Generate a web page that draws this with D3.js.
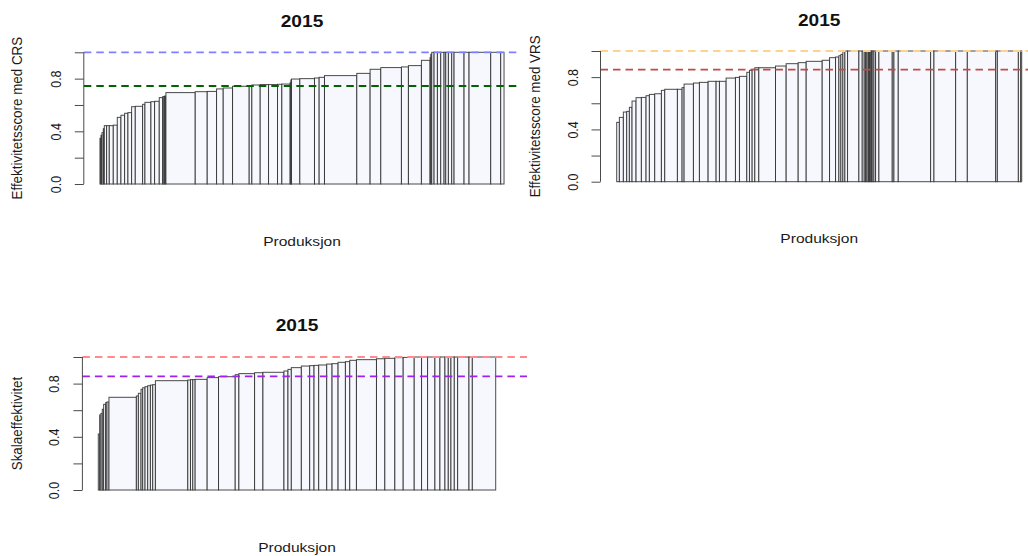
<!DOCTYPE html>
<html>
<head>
<meta charset="utf-8">
<script src="https://cdn.jsdelivr.net/npm/d3@7/dist/d3.min.js"></script>
<style>
  html, body { margin: 0; padding: 0; background: #ffffff; }
  svg { display: block; font-family: "Liberation Sans", Arial, Helvetica, sans-serif; }
</style>
</head>
<body>
<svg id="chart" width="1028" height="556"></svg>
<script>
// Salter diagrams for 2015: each bar is one unit, width = production, height = efficiency score.

// CRS efficiency, sorted ascending
const crsProduksjon = [3,3,4,3,7,8,12,12,11,11,10,11,11,22,7,18,11,14,10,4,3,3,88,36,28,20,28,50,8,25,25,27,13,25,2,2,25,44,14,16,97,40,32,62,21,39,26,2,3,7,10,10,10,5,8,10,7,30,15,65,30,10];
const crsScore = [0.347,0.37,0.39,0.42,0.443,0.443,0.443,0.447,0.506,0.522,0.537,0.542,0.587,0.590,0.605,0.620,0.625,0.628,0.656,0.663,0.665,0.668,0.694,0.701,0.703,0.722,0.729,0.742,0.743,0.752,0.755,0.755,0.757,0.759,0.77,0.79,0.797,0.800,0.805,0.81,0.823,0.84,0.871,0.884,0.889,0.899,0.939,0.96,0.985,1,1,1,1,1,1,1,1,1,1,1,1,1];
const crsMean = 0.744;

// VRS efficiency, sorted ascending
const vrsProduksjon = [8,12,10,8,8,12,16,14,10,16,20,10,38,14,6,28,18,26,24,10,20,28,12,22,8,8,8,12,50,32,36,24,48,22,18,10,6,6,6,8,34,10,6,4,4,4,3,3,3,3,5,5,10,40,5,13,97,10,65,35,85,5,63,7,3];
const vrsScore = [0.454,0.492,0.533,0.538,0.569,0.617,0.643,0.645,0.658,0.668,0.673,0.699,0.707,0.707,0.72,0.747,0.755,0.76,0.768,0.768,0.768,0.793,0.798,0.806,0.837,0.852,0.86,0.872,0.872,0.885,0.903,0.911,0.921,0.929,0.949,0.954,0.964,0.974,0.995,1,1,1,1,1,1,1,1,1,1,1,1,1,1,1,1,1,1,1,1,1,1,1,1,1,1];
const vrsMean = 0.857;

// Scale efficiency, sorted ascending
const skalaProduksjon = [4,4,4,4,6,4,6,82,6,8,5,7,8,8,7,8,97,8,7,7,36,34,50,11,47,25,63,12,10,30,25,13,14,24,16,18,22,13,20,60,25,30,25,33,22,18,22,15,15,10,8,10,10,34,10,70];
const skalaScore = [0.421,0.564,0.576,0.607,0.644,0.657,0.662,0.697,0.707,0.727,0.757,0.769,0.777,0.784,0.789,0.792,0.822,0.827,0.83,0.83,0.832,0.845,0.852,0.867,0.875,0.882,0.885,0.895,0.907,0.92,0.932,0.935,0.937,0.94,0.947,0.95,0.96,0.965,0.975,0.98,0.987,0.99,0.995,0.997,1,1,1,1,1,1,1,1,1,1,1,1];
const skalaMean = 0.855;

const yTicks = [0, 0.2, 0.4, 0.6, 0.8, 1.0];
const yLabelled = [0, 0.4, 0.8];
const titleText = "2015";
const xTitle = "Produksjon";

// Horizontal stretch applied to text glyphs
const sx = 1.16;

const panels = [
  { prod: crsProduksjon, score: crsScore, title: titleText, yTitle: "Effektivitetsscore med CRS",
    lines: [{ v: 1, color: "#8080ff" }, { v: crsMean, color: "#006400" }],
    left: 83.8, right: 520.2, y0: 184, y1: 52.3, titleY: 26.5, yTitleX: 21.5 },
  { prod: vrsProduksjon, score: vrsScore, title: titleText, yTitle: "Effektivitetsscore med VRS",
    lines: [{ v: 1, color: "#fdd38f" }, { v: vrsMean, color: "#c44a4a" }],
    left: 600.5, right: 1037.9, y0: 181.7, y1: 51, titleY: 26, yTitleX: 539.5 },
  { prod: skalaProduksjon, score: skalaScore, title: titleText, yTitle: "Skalaeffektivitet",
    lines: [{ v: 1, color: "#ff8c8c" }, { v: skalaMean, color: "#a020f0" }],
    left: 82.4, right: 511.6, y0: 490, y1: 357, titleY: 331, yTitleX: 21.5, lineRight: 527 }
];

const svg = d3.select("#chart");

panels.forEach(p => {
  const g = svg.append("g");
  const total = d3.sum(p.prod);
  let cum = 0;
  const bars = p.prod.map((w, i) => {
    const b = { start: cum, end: cum + w, score: p.score[i] };
    cum += w;
    return b;
  });

  const x = d3.scaleLinear().domain([-0.04 * total, 1.04 * total]).range([p.left, p.right]);
  const unit = p.y0 - p.y1;
  const y = d3.scaleLinear().domain([0, 1]).range([p.y0, p.y1]);

  // bars
  g.selectAll("rect.bar").data(bars).enter().append("rect")
    .attr("class", "bar")
    .attr("x", d => x(d.start))
    .attr("width", d => x(d.end) - x(d.start))
    .attr("y", d => y(d.score))
    .attr("height", d => y(0) - y(d.score))
    .attr("fill", "#f7f8fe")
    .attr("stroke", "#2a2a2a")
    .attr("stroke-opacity", 0.85)
    .attr("stroke-width", 1);

  // reference lines
  const lr = p.lineRight || p.right;
  p.lines.forEach(l => {
    g.append("line")
      .attr("x1", p.left).attr("x2", lr)
      .attr("y1", y(l.v)).attr("y2", y(l.v))
      .attr("stroke", l.color)
      .attr("stroke-width", 1.8)
      .attr("stroke-dasharray", "7.5,5");
  });

  // y axis
  const axis = d3.axisLeft(y)
    .tickValues(yTicks)
    .tickSize(9)
    .tickSizeOuter(0)
    .tickFormat(d => yLabelled.some(v => Math.abs(v - d) < 1e-9) ? d.toFixed(1) : "");
  const ag = g.append("g").attr("transform", `translate(${p.left},0)`).call(axis);
  ag.select(".domain").remove();
  ag.selectAll(".tick line").attr("stroke", "#4a4a4a").attr("stroke-width", 1);
  ag.selectAll(".tick text")
    .attr("x", null).attr("dy", null)
    .attr("text-anchor", "middle")
    .attr("fill", "#1a1a1a")
    .style("font-size", "12.5px")
    .attr("transform", `translate(-23,0) scale(${sx},1) rotate(-90)`);
  g.append("line")
    .attr("x1", p.left).attr("x2", p.left)
    .attr("y1", y(0)).attr("y2", y(1))
    .attr("stroke", "#4a4a4a").attr("stroke-width", 1);

  // title
  const cx = (p.left + p.right) / 2;
  g.append("text")
    .attr("transform", `translate(${cx},${p.titleY}) scale(${sx},1)`)
    .attr("text-anchor", "middle")
    .attr("font-weight", "bold")
    .style("font-size", "16.5px")
    .attr("fill", "#111")
    .text(p.title);

  // x label
  g.append("text")
    .attr("transform", `translate(${cx},${y(0) + 61.5}) scale(${sx},1)`)
    .attr("text-anchor", "middle")
    .style("font-size", "13.4px")
    .attr("fill", "#1a1a1a")
    .text(xTitle);

  // y label
  g.append("text")
    .attr("transform", `translate(${p.yTitleX},${(y(0) + y(1)) / 2}) scale(${sx},1) rotate(-90)`)
    .attr("text-anchor", "middle")
    .style("font-size", "13.4px")
    .attr("fill", "#1a1a1a")
    .text(p.yTitle);
});
</script>
</body>
</html>
